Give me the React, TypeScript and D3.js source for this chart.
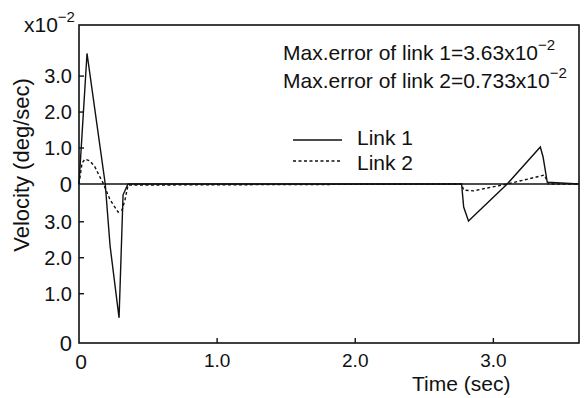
import React from 'react';
import * as d3 from 'd3';

// Link 1 (solid) – time (sec) and velocity error (x10^-2 deg/sec)
const link1T = [0, 0.058, 0.19, 0.225, 0.29, 0.319, 0.355, 2.77, 2.785, 2.82, 3.1, 3.34, 3.36, 3.39, 3.62];
const link1V = [0, 3.63, 0, -1.72, -3.72, -0.3, 0, 0, -0.64, -1.03, 0, 1.03, 0.75, 0.05, 0];

// Link 2 (dashed)
const link2T = [0, 0.022, 0.043, 0.08, 0.116, 0.152, 0.174, 0.225, 0.283, 0.312, 0.333, 0.355, 2.77, 2.785, 2.855, 3.1, 3.34, 3.37, 3.4, 3.62];
const link2V = [0, 0.58, 0.69, 0.64, 0.47, 0.19, 0.03, -0.44, -0.78, -0.72, -0.44, -0.03, 0, -0.17, -0.19, 0, 0.22, 0.25, 0, 0];

// axis ticks
const xTicks = [1, 2, 3];
const xTickLabels = ['1.0', '2.0', '3.0'];
const yTicks = [3, 2, 1, 0, -1.05, -2.05, -3.05, -4.42];
const yTickLabels = ['3.0', '2.0', '1.0', '0', '3.0', '2.0', '1.0', '0'];
const yTickMarks = [3, 2, 1, -1.05, -2.05, -3.05];

const FONT = "'Liberation Sans', Arial, sans-serif";

export default function App() {
  const x = d3.scaleLinear().domain([0, 3.62]).range([79, 579]);
  const y = d3.scaleLinear().domain([-4.42, 4.42]).range([343, 25]);

  const line = d3.line<[number, number]>().x(d => x(d[0])).y(d => y(d[1]));
  const d1 = line(link1T.map((t, i) => [t, link1V[i]] as [number, number])) || '';
  const d2 = line(link2T.map((t, i) => [t, link2V[i]] as [number, number])) || '';

  return (
    <svg width={585} height={398} style={{ position: 'absolute', left: 0, top: 0, background: '#fff' }} fontFamily={FONT}>
      <rect x={0} y={0} width={585} height={398} fill="#fff" />
      {/* frame */}
      <rect x={x(0)} y={y(4.42)} width={x(3.62) - x(0)} height={y(-4.42) - y(4.42)} fill="none" stroke="#111" strokeWidth={1.6} />
      {/* zero line */}
      <line x1={x(0)} x2={x(3.62)} y1={y(0)} y2={y(0)} stroke="#111" strokeWidth={1.6} />
      {/* x ticks */}
      {xTicks.map((t, i) => (
        <g key={'xt' + i}>
          <line x1={x(t)} x2={x(t)} y1={y(-4.42)} y2={y(-4.42) - 5} stroke="#111" strokeWidth={1.4} />
          <text x={x(t)} y={y(-4.42) + 24} fontSize={19} textAnchor="middle" fill="#111">{xTickLabels[i]}</text>
        </g>
      ))}
      <text x={x(0) + 2} y={y(-4.42) + 26} fontSize={21} textAnchor="middle" fill="#111">0</text>
      {/* y ticks */}
      {yTickMarks.map((t, i) => (
        <line key={'ym' + i} x1={x(0)} x2={x(0) + 5} y1={y(t)} y2={y(t)} stroke="#111" strokeWidth={1.4} />
      ))}
      {yTicks.map((t, i) => (
        <text key={'yl' + i} x={72} y={y(t)} dy="0.36em" fontSize={yTickLabels[i] === '0' ? 22 : 20} textAnchor="end" fill="#111">{yTickLabels[i]}</text>
      ))}
      {/* scale factor */}
      <text x={24} y={32} fontSize={21} fill="#111">x10<tspan dy={-10} fontSize={15}>−2</tspan></text>
      {/* data */}
      <path d={d1} fill="none" stroke="#111" strokeWidth={1.4} />
      <path d={d2} fill="none" stroke="#111" strokeWidth={1.4} strokeDasharray="3,2.5" />
      {/* annotations */}
      <text x={283} y={60} fontSize={21} fill="#111">Max.error of link 1=3.63x10<tspan dy={-10} fontSize={15}>−2</tspan></text>
      <text x={283} y={88} fontSize={21} fill="#111">Max.error of link 2=0.733x10<tspan dy={-10} fontSize={15}>−2</tspan></text>
      {/* legend */}
      <line x1={293} x2={342} y1={140} y2={140} stroke="#111" strokeWidth={1.3} />
      <text x={357} y={145} fontSize={21} fill="#111">Link 1</text>
      <line x1={293} x2={342} y1={161} y2={161} stroke="#111" strokeWidth={1.3} strokeDasharray="3,2.5" />
      <text x={357} y={170} fontSize={21} fill="#111">Link 2</text>
      {/* axis titles */}
      <text x={412} y={391} fontSize={21} fill="#111">Time (sec)</text>
      <text transform="translate(29,165) rotate(-90)" fontSize={22} textAnchor="middle" fill="#111">Velocity (deg/sec)</text>
    </svg>
  );
}
